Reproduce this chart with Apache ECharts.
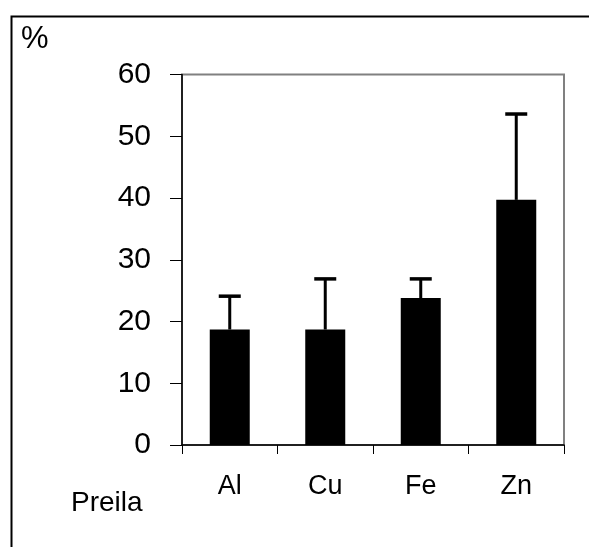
<!DOCTYPE html>
<html>
<head>
<meta charset="utf-8">
<script src="https://cdn.jsdelivr.net/npm/echarts@6/dist/echarts.min.js"></script>
<style>html,body{margin:0;padding:0;background:#fff}#c{width:589px;height:547px}</style>
</head>
<body>
<div id="c"></div>
<script>
const categories = ['Al', 'Cu', 'Fe', 'Zn'];
const means = [18.7, 18.7, 23.8, 39.7];
const errors = [5.4, 8.2, 3.1, 13.9];
const yTicks = [0, 10, 20, 30, 40, 50, 60];

const FONT = '"Liberation Sans", Arial, sans-serif';
const chart = echarts.init(document.getElementById('c'), null, {renderer: 'canvas'});

const errData = categories.map((c, i) => [i, means[i], means[i] + errors[i]]);

chart.setOption({
  animation: false,
  backgroundColor: '#fff',
  grid: {left: 182, top: 74.5, right: 25, bottom: 102, show: true, borderColor: '#808080', borderWidth: 2, backgroundColor: 'transparent'},
  xAxis: {
    type: 'category', data: categories,
    axisLine: {lineStyle: {color: '#000', width: 1.5}},
    axisTick: {show: true, length: 9, lineStyle: {color: '#000', width: 1}},
    axisLabel: {fontFamily: FONT, fontSize: 27, color: '#000', margin: 28}
  },
  yAxis: {
    type: 'value', min: yTicks[0], max: yTicks[yTicks.length - 1], interval: 10,
    axisLine: {show: true, lineStyle: {color: '#000', width: 1.5}},
    axisTick: {show: true, length: 12, lineStyle: {color: '#000', width: 1}},
    splitLine: {show: false},
    axisLabel: {fontFamily: FONT, fontSize: 30, color: '#000', margin: 31}
  },
  graphic: [
    {type: 'rect', left: 9, top: 14, shape: {x: 0, y: 0, width: 640, height: 600}, style: {fill: 'none', stroke: '#000', lineWidth: 2}, z: -1},
    {type: 'text', left: 21, top: 24, style: {text: '%', font: '31px ' + FONT, fill: '#000'}},
    {type: 'text', left: 71, top: 489, style: {text: 'Preila', font: '28px ' + FONT, fill: '#000'}}
  ],
  series: [
    {
      type: 'bar', data: means, barWidth: 40,
      itemStyle: {color: '#000'}
    },
    {
      type: 'custom', data: errData, z: 5,
      renderItem: function (params, api) {
        const x = api.value(0);
        const lo = api.coord([x, api.value(1)]);
        const hi = api.coord([x, api.value(2)]);
        const hw = 11;
        return {
          type: 'group',
          children: [
            {type: 'line', shape: {x1: lo[0], y1: lo[1], x2: hi[0], y2: hi[1]}, style: {stroke: '#000', lineWidth: 3}},
            {type: 'line', shape: {x1: hi[0] - hw, y1: hi[1], x2: hi[0] + hw, y2: hi[1]}, style: {stroke: '#000', lineWidth: 3.5}}
          ]
        };
      }
    }
  ]
});
</script>
</body>
</html>
